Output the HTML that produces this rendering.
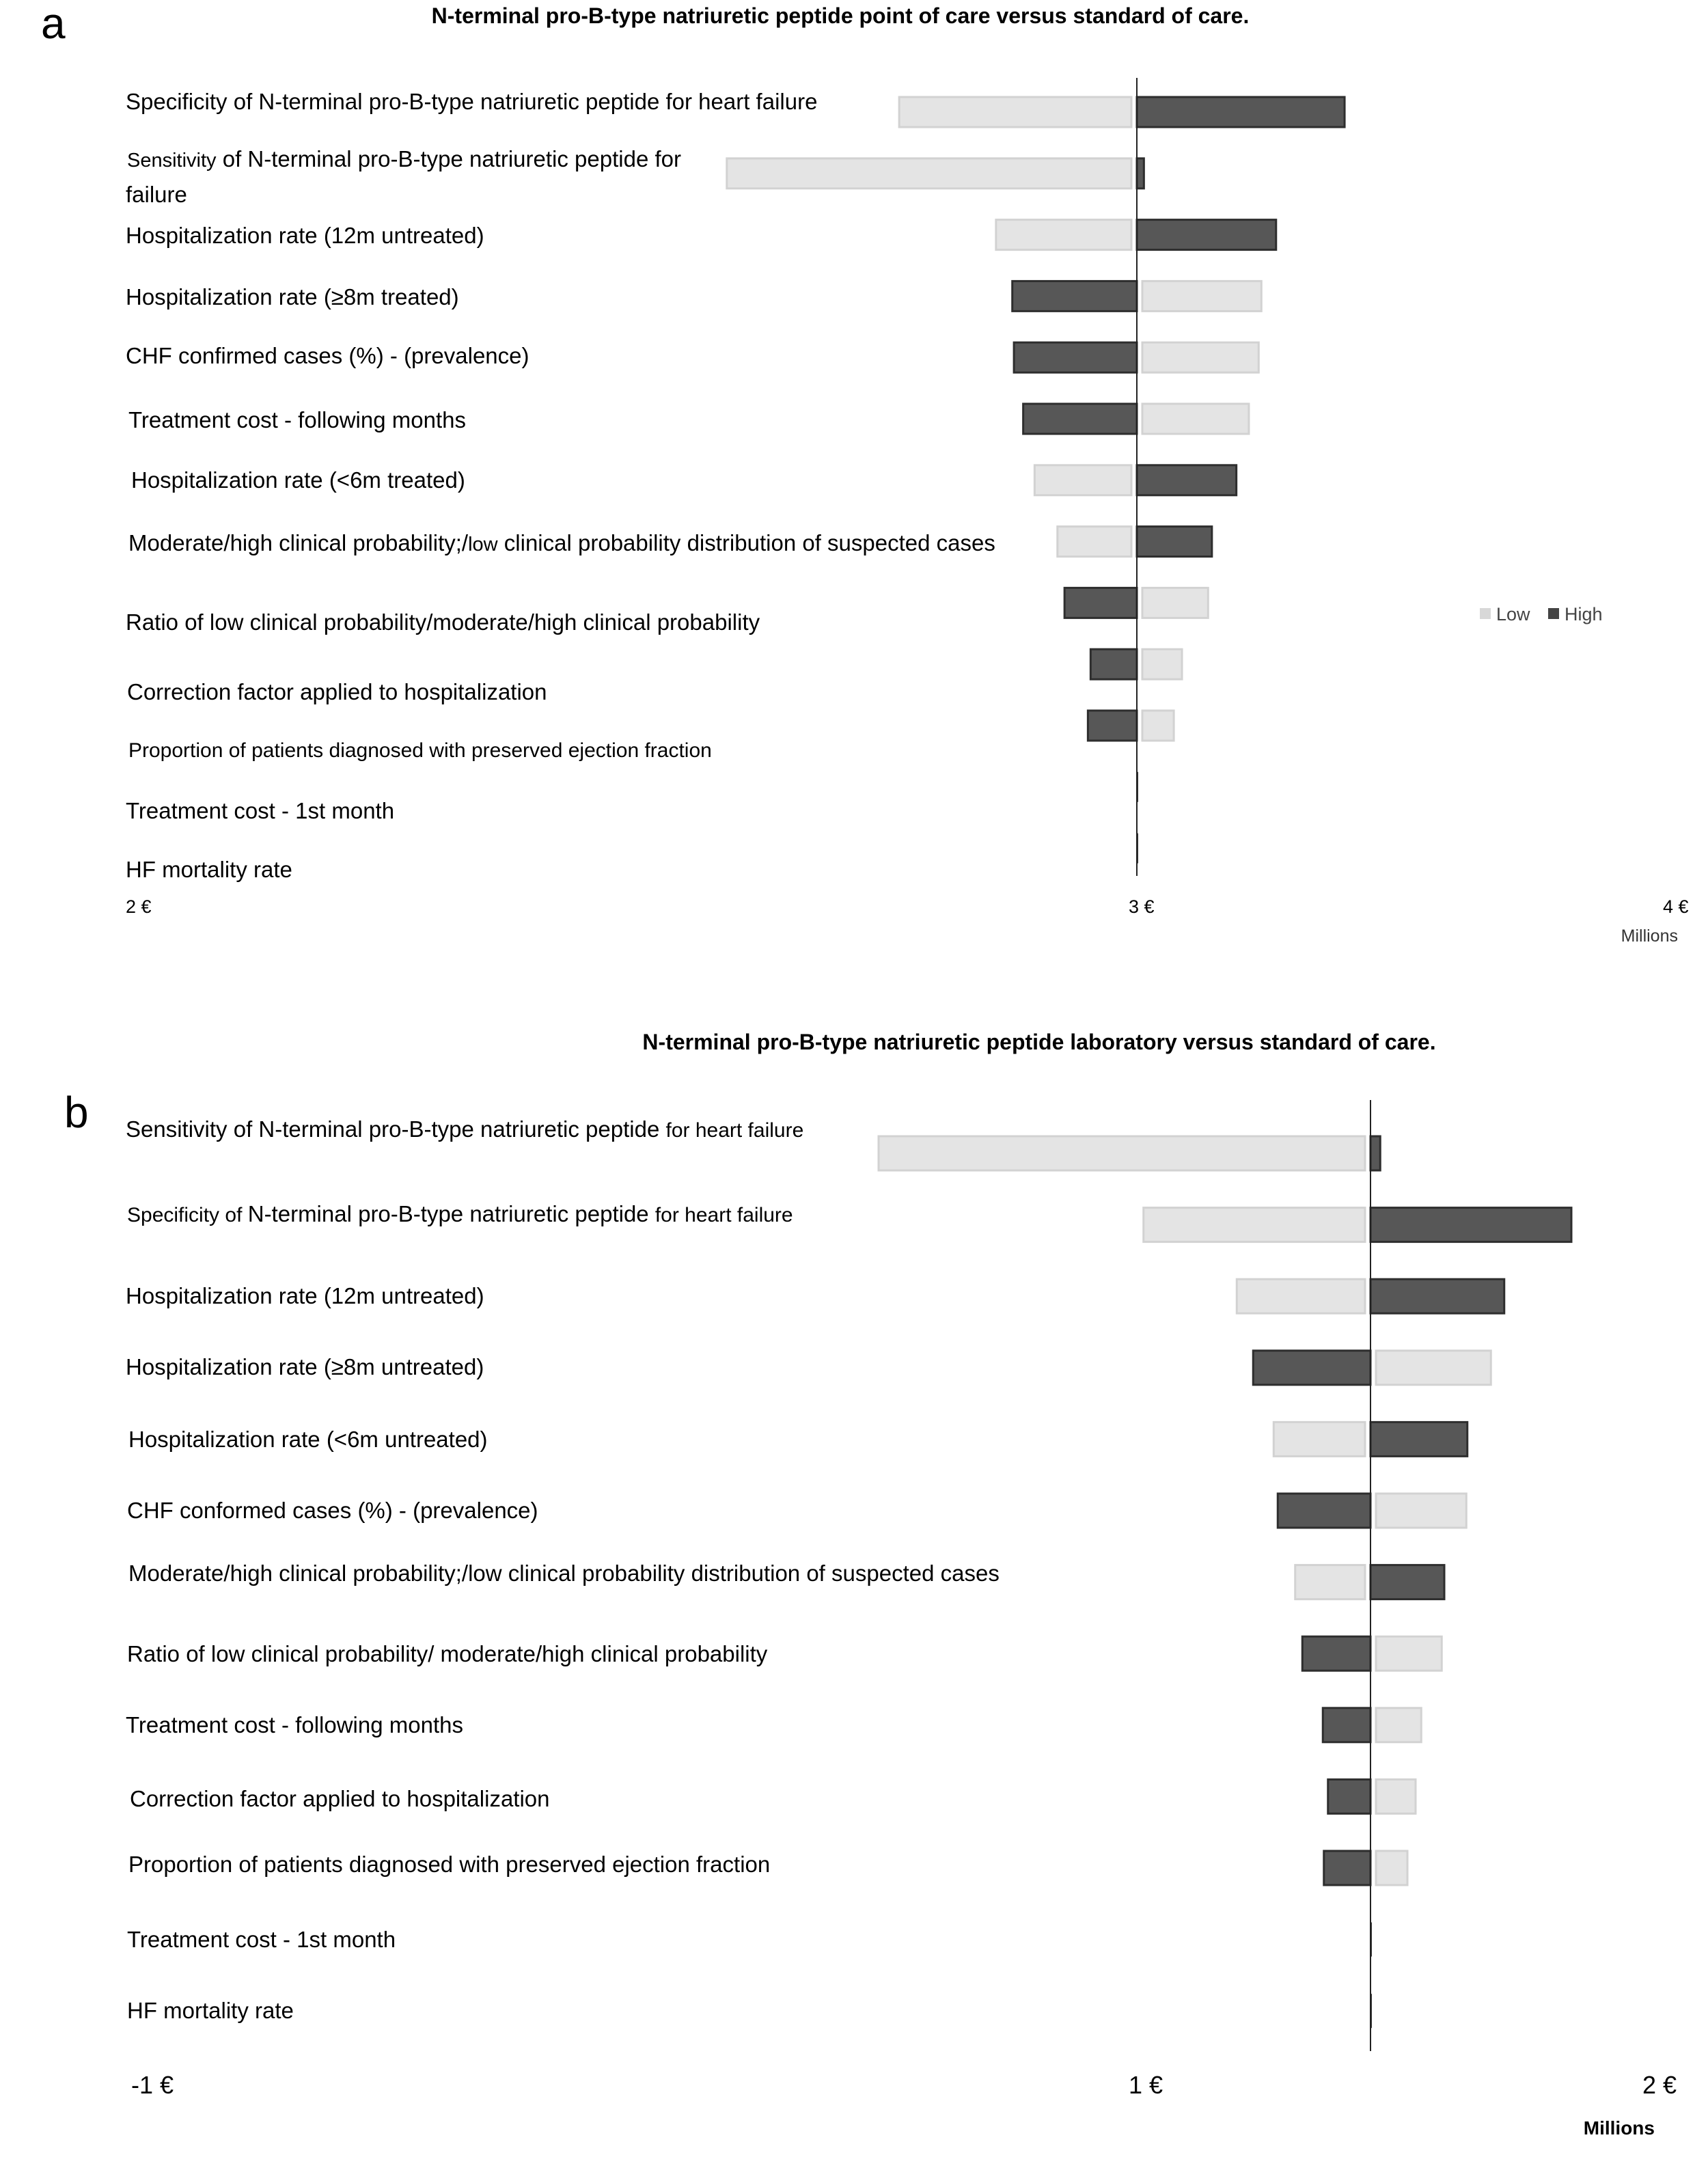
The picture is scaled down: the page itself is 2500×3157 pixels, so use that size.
<!DOCTYPE html>
<html><head><meta charset="utf-8"><style>
html,body{margin:0;padding:0;background:#fff}
svg{display:block;font-family:"Liberation Sans",Arial,sans-serif}
</style></head><body>
<svg id="chart" width="2500" height="3157" viewBox="0 0 2500 3157">
<g>
<text x="60" y="56" font-size="64">a</text>
<text x="1230" y="34" font-size="32" font-weight="bold" text-anchor="middle">N-terminal pro-B-type natriuretic peptide point of care versus standard of care.</text>
<g font-size="33">
<text x="184" y="160">Specificity of N-terminal pro-B-type natriuretic peptide for heart failure</text>
<text x="186" y="244"><tspan font-size="29">Sensitivity</tspan> of N-terminal pro-B-type natriuretic peptide  for</text>
<text x="184" y="296">failure</text>
<text x="184" y="356">Hospitalization rate (12m untreated)</text>
<text x="184" y="446">Hospitalization rate (≥8m treated)</text>
<text x="184" y="532">CHF confirmed cases (%) - (prevalence)</text>
<text x="188" y="626">Treatment cost - following months</text>
<text x="192" y="714">Hospitalization rate (&lt;6m treated)</text>
<text x="188" y="806">Moderate/high clinical probability;/<tspan font-size="29">low</tspan> clinical probability distribution of suspected cases</text>
<text x="184" y="922">Ratio of low clinical probability/moderate/high clinical probability</text>
<text x="186" y="1024">Correction factor applied to hospitalization</text>
<text x="188" y="1108" font-size="30">Proportion of patients diagnosed with preserved ejection fraction</text>
<text x="184" y="1198">Treatment cost - 1st month</text>
<text x="184" y="1284">HF mortality rate</text>
</g>
<g id="barsA"></g>
<g id="ticksA"></g>
<text x="2456" y="1378" font-size="25" text-anchor="end" fill="#333">Millions</text>
<g>
<rect x="2166" y="890" width="16" height="16" fill="#d8d8d8"/>
<text x="2190" y="908" font-size="27" fill="#444">Low</text>
<rect x="2266" y="890" width="16" height="16" fill="#444"/>
<text x="2290" y="908" font-size="27" fill="#444">High</text>
</g>
</g>
<g>
<text x="94" y="1650" font-size="64">b</text>
<text x="1521" y="1536" font-size="32" font-weight="bold" text-anchor="middle">N-terminal pro-B-type natriuretic peptide laboratory versus standard of care.</text>
<g font-size="33">
<text x="184" y="1664">Sensitivity of N-terminal pro-B-type natriuretic peptide <tspan font-size="30">for heart failure</tspan></text>
<text x="186" y="1788"><tspan font-size="30">Specificity of </tspan> N-terminal pro-B-type natriuretic peptide <tspan font-size="30">for heart failure</tspan></text>
<text x="184" y="1908">Hospitalization rate (12m untreated)</text>
<text x="184" y="2012">Hospitalization rate (≥8m untreated)</text>
<text x="188" y="2118">Hospitalization rate (&lt;6m untreated)</text>
<text x="186" y="2222">CHF conformed cases (%) - (prevalence)</text>
<text x="188" y="2314">Moderate/high clinical probability;/low clinical probability distribution of suspected cases</text>
<text x="186" y="2432">Ratio of  low clinical probability/ moderate/high clinical probability</text>
<text x="184" y="2536">Treatment cost - following months</text>
<text x="190" y="2644">Correction factor applied to hospitalization</text>
<text x="188" y="2740">Proportion of patients diagnosed with preserved ejection fraction</text>
<text x="186" y="2850">Treatment cost - 1st month</text>
<text x="186" y="2954">HF mortality rate</text>
</g>
<g id="barsB"></g>
<g id="ticksB"></g>
<text x="2422" y="3124" font-size="28" font-weight="bold" text-anchor="end">Millions</text>
</g>
</svg>
<script>
// Panel A data (millions €)
const catsA = ["Specificity","Sensitivity","Hosp 12m","Hosp >=8m","CHF","Treatment following","Hosp <6m","Moderate/high","Ratio","Correction","Proportion","Treatment 1st","HF mortality"];
const lowA  = [2.563,2.246,2.741,3.229,3.224,3.206,2.812,2.854,3.131,3.083,3.068,3.0,3.0];
const highA = [3.382,3.013,3.256,2.771,2.774,2.791,3.183,3.138,2.867,2.915,2.910,3.0,3.0];
const baseA = 3.0;
const ticksA = [2,3,4];
const tickLabelsA = ["2 €","3 €","4 €"];
// Panel B data (millions €)
const catsB = ["Sensitivity","Specificity","Hosp 12m","Hosp >=8m","Hosp <6m","CHF","Moderate/high","Ratio","Treatment following","Correction","Proportion","Treatment 1st","HF mortality"];
const lowB  = [0.475,0.992,1.174,1.670,1.246,1.622,1.288,1.574,1.534,1.523,1.507,1.435,1.435];
const highB = [1.454,1.827,1.696,1.206,1.624,1.254,1.579,1.302,1.342,1.352,1.344,1.435,1.435];
const baseB = 1.435;
const ticksB = [-1,1,2];
const tickLabelsB = ["-1 €","1 €","2 €"];

const NS="http://www.w3.org/2000/svg";
function mk(tag,attrs,parent){const e=document.createElementNS(NS,tag);for(const k in attrs)e.setAttribute(k,attrs[k]);parent.appendChild(e);return e;}
function piece(dom,rng){return v=>{for(let i=0;i<dom.length-1;i++){if(v<=dom[i+1]||i==dom.length-2){return rng[i]+(v-dom[i])/(dom[i+1]-dom[i])*(rng[i+1]-rng[i]);}}};}

function draw(g,tg,cats,low,high,base,xs,y0,step,bh,lineTop,lineBot,ticks,tickLabels,tickX,tickY,tickSize){
  const bx=xs(base);
  cats.forEach((c,i)=>{
    const yc=y0+i*step;
    [[low[i],'low'],[high[i],'high']].forEach(([v,kind])=>{
      let x1=bx,x2=xs(v);
      if(Math.abs(x2-x1)<1){ if(kind==='high'){const r=mk('rect',{x:bx-1,y:yc-bh/2,width:3,height:bh,fill:'#333'},g);} return;}
      const dark=kind==='high';
      const gap=dark?0:8;
      let a=Math.min(x1,x2),b=Math.max(x1,x2);
      if(x2<x1)b-=gap;else a+=gap;
      const r=mk('rect',{x:a,y:yc-bh/2,width:Math.max(b-a,2),height:bh,fill:dark?'#575757':'#e4e4e4',stroke:dark?'#2e2e2e':'#d2d2d2','stroke-width':3},g);
      
      
    });
  });
  const l=mk('line',{x1:bx,x2:bx,y1:lineTop,y2:lineBot,stroke:'#222','stroke-width':2},g);
  
  
  ticks.forEach((t,i)=>{
    const tx=mk('text',{x:tickX(t),y:tickY,'font-size':tickSize},tg);
    tx.textContent=tickLabels[i];
    
    
  });
}
const xA=v=>1664+(v-3)*796;
const tA=piece([2,3,4],[184,1652,2434]);
draw(document.getElementById('barsA'),document.getElementById('ticksA'),catsA,lowA,highA,baseA,xA,164,89.8,44,114,1282,ticksA,tickLabelsA,tA,1336,27);
const xB=v=>2006+(v-1.435)*750;
const tB=piece([-1,1,2],[192,1652,2404]);
draw(document.getElementById('barsB'),document.getElementById('ticksB'),catsB,lowB,highB,baseB,xB,1688,104.6,50,1610,3002,ticksB,tickLabelsB,tB,3064,36);
</script>
</body></html>
